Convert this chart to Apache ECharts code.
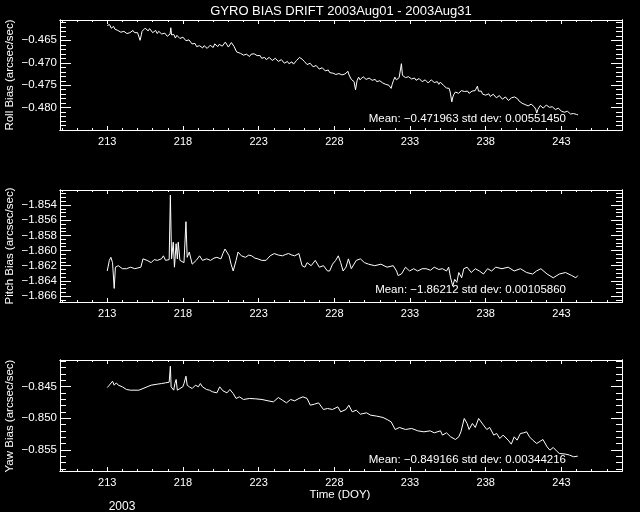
<!DOCTYPE html>
<html>
<head>
<meta charset="utf-8">
<script src="https://cdn.jsdelivr.net/npm/echarts@6/dist/echarts.min.js"></script>
<style>html,body{margin:0;padding:0;background:#000;}#c{width:640px;height:512px;}</style>
</head>
<body>
<div id="c"></div>
<script>
// ---------- data ----------
const titleText = 'GYRO BIAS DRIFT 2003Aug01 - 2003Aug31';
const xTickLabels = [213, 218, 223, 228, 233, 238, 243];
const yTitles = ['Roll Bias (arcsec/sec)', 'Pitch Bias (arcsec/sec)', 'Yaw Bias (arcsec/sec)'];
const statTexts = [
  'Mean: \u22120.471963 std dev: 0.00551450',
  'Mean: \u22121.86212 std dev: 0.00105860',
  'Mean: \u22120.849166 std dev: 0.00344216'
];
const rollTicks = [-0.480, -0.475, -0.470, -0.465];
const pitchTicks = [-1.866, -1.864, -1.862, -1.860, -1.858, -1.856, -1.854];
const yawTicks = [-0.855, -0.850, -0.845];

// roll: [day of year, bias]
const rollSeries = [
[213.0,-0.4617],[213.05,-0.4614],[213.1,-0.4619],[213.15,-0.4615],[213.2,-0.4616],[213.27,-0.4623],[213.35,-0.4621],[213.42,-0.4619],[213.5,-0.4625],[213.6,-0.4622],[213.7,-0.4628],[213.8,-0.4626],[213.9,-0.4632],[214.0,-0.4628],[214.1,-0.4630],[214.2,-0.4634],[214.3,-0.4635],[214.4,-0.4631],[214.5,-0.4633],[214.6,-0.4636],[214.7,-0.4628],[214.8,-0.4633],[214.9,-0.4636],[215.0,-0.4633],[215.1,-0.4637],[215.17,-0.4650],[215.25,-0.4638],[215.3,-0.4630],[215.36,-0.4627],[215.43,-0.4631],[215.5,-0.4623],[215.6,-0.4627],[215.7,-0.4629],[215.8,-0.4624],[215.9,-0.4626],[216.0,-0.4633],[216.1,-0.4631],[216.2,-0.4628],[216.3,-0.4635],[216.4,-0.4630],[216.5,-0.4632],[216.6,-0.4636],[216.7,-0.4639],[216.8,-0.4634],[216.9,-0.4637],[216.97,-0.4641],[217.05,-0.4643],[217.15,-0.4636],[217.2,-0.4622],[217.25,-0.4638],[217.3,-0.4640],[217.4,-0.4637],[217.5,-0.4645],[217.6,-0.4639],[217.7,-0.4641],[217.8,-0.4646],[217.9,-0.4648],[218.0,-0.4643],[218.1,-0.4645],[218.2,-0.4651],[218.3,-0.4655],[218.4,-0.4649],[218.5,-0.4652],[218.6,-0.4658],[218.7,-0.4660],[218.8,-0.4657],[218.9,-0.4664],[219.0,-0.4660],[219.1,-0.4662],[219.2,-0.4665],[219.3,-0.4667],[219.4,-0.4662],[219.5,-0.4664],[219.6,-0.4668],[219.7,-0.4666],[219.8,-0.4661],[219.9,-0.4662],[220.0,-0.4666],[220.1,-0.4658],[220.2,-0.4661],[220.3,-0.4664],[220.4,-0.4659],[220.5,-0.4655],[220.6,-0.4663],[220.7,-0.4660],[220.8,-0.4654],[220.9,-0.4657],[221.0,-0.4665],[221.1,-0.4662],[221.2,-0.4655],[221.3,-0.4656],[221.38,-0.4664],[221.45,-0.4661],[221.55,-0.4676],[221.68,-0.4674],[221.8,-0.4679],[221.9,-0.4677],[222.0,-0.4683],[222.1,-0.4679],[222.2,-0.4681],[222.3,-0.4685],[222.4,-0.4686],[222.5,-0.4681],[222.6,-0.4683],[222.7,-0.4680],[222.8,-0.4678],[222.9,-0.4684],[223.0,-0.4687],[223.1,-0.4684],[223.2,-0.4690],[223.3,-0.4686],[223.4,-0.4688],[223.5,-0.4693],[223.6,-0.4692],[223.7,-0.4688],[223.8,-0.4690],[223.9,-0.4695],[224.0,-0.4694],[224.1,-0.4690],[224.2,-0.4691],[224.3,-0.4697],[224.4,-0.4696],[224.5,-0.4693],[224.6,-0.4697],[224.7,-0.4701],[224.8,-0.4700],[224.9,-0.4697],[225.0,-0.4702],[225.1,-0.4699],[225.2,-0.4698],[225.3,-0.4703],[225.4,-0.4701],[225.5,-0.4695],[225.6,-0.4691],[225.7,-0.4688],[225.8,-0.4687],[225.87,-0.4692],[225.95,-0.4689],[226.02,-0.4697],[226.1,-0.4700],[226.2,-0.4704],[226.3,-0.4707],[226.4,-0.4701],[226.5,-0.4703],[226.6,-0.4709],[226.7,-0.4711],[226.8,-0.4706],[226.9,-0.4709],[227.0,-0.4714],[227.1,-0.4716],[227.2,-0.4711],[227.3,-0.4712],[227.4,-0.4718],[227.5,-0.4719],[227.6,-0.4716],[227.7,-0.4722],[227.8,-0.4719],[227.9,-0.4723],[228.0,-0.4727],[228.1,-0.4726],[228.2,-0.4722],[228.3,-0.4724],[228.4,-0.4728],[228.5,-0.4727],[228.6,-0.4723],[228.7,-0.4725],[228.8,-0.4721],[228.9,-0.4719],[228.97,-0.4727],[229.05,-0.4731],[229.12,-0.4737],[229.2,-0.4735],[229.3,-0.4742],[229.4,-0.4760],[229.5,-0.4740],[229.6,-0.4732],[229.7,-0.4738],[229.8,-0.4736],[229.9,-0.4731],[230.0,-0.4733],[230.1,-0.4737],[230.2,-0.4738],[230.3,-0.4734],[230.4,-0.4735],[230.5,-0.4739],[230.6,-0.4740],[230.7,-0.4737],[230.8,-0.4742],[230.9,-0.4739],[231.0,-0.4740],[231.1,-0.4744],[231.2,-0.4745],[231.3,-0.4743],[231.4,-0.4748],[231.5,-0.4746],[231.6,-0.4750],[231.68,-0.4753],[231.75,-0.4757],[231.82,-0.4748],[231.9,-0.4740],[232.0,-0.4732],[232.1,-0.4738],[232.2,-0.4736],[232.28,-0.4733],[232.35,-0.4730],[232.43,-0.4702],[232.5,-0.4728],[232.6,-0.4731],[232.7,-0.4733],[232.8,-0.4729],[232.9,-0.4731],[233.0,-0.4735],[233.1,-0.4736],[233.2,-0.4732],[233.3,-0.4734],[233.4,-0.4739],[233.5,-0.4738],[233.6,-0.4735],[233.7,-0.4737],[233.8,-0.4742],[233.9,-0.4741],[234.0,-0.4738],[234.1,-0.4740],[234.2,-0.4745],[234.3,-0.4743],[234.4,-0.4738],[234.5,-0.4740],[234.6,-0.4744],[234.7,-0.4746],[234.8,-0.4742],[234.9,-0.4748],[235.0,-0.4743],[235.1,-0.4745],[235.2,-0.4750],[235.3,-0.4752],[235.4,-0.4756],[235.5,-0.4760],[235.58,-0.4757],[235.65,-0.4765],[235.76,-0.4787],[235.83,-0.4776],[235.9,-0.4770],[236.0,-0.4765],[236.1,-0.4762],[236.2,-0.4768],[236.3,-0.4766],[236.4,-0.4762],[236.5,-0.4760],[236.6,-0.4764],[236.7,-0.4766],[236.8,-0.4763],[236.9,-0.4768],[237.0,-0.4766],[237.1,-0.4763],[237.2,-0.4767],[237.3,-0.4762],[237.38,-0.4759],[237.45,-0.4752],[237.52,-0.4763],[237.6,-0.4766],[237.7,-0.4763],[237.8,-0.4770],[237.9,-0.4767],[238.0,-0.4772],[238.1,-0.4768],[238.2,-0.4769],[238.3,-0.4775],[238.4,-0.4774],[238.5,-0.4770],[238.6,-0.4772],[238.7,-0.4778],[238.8,-0.4777],[238.9,-0.4773],[239.0,-0.4775],[239.1,-0.4781],[239.2,-0.4780],[239.3,-0.4776],[239.4,-0.4778],[239.5,-0.4784],[239.6,-0.4783],[239.7,-0.4778],[239.8,-0.4780],[239.9,-0.4776],[240.0,-0.4772],[240.1,-0.4780],[240.2,-0.4785],[240.3,-0.4788],[240.4,-0.4790],[240.5,-0.4787],[240.6,-0.4793],[240.7,-0.4790],[240.8,-0.4796],[240.9,-0.4799],[241.0,-0.4792],[241.1,-0.4795],[241.2,-0.4798],[241.3,-0.4803],[241.37,-0.4812],[241.44,-0.4804],[241.5,-0.4800],[241.6,-0.4795],[241.7,-0.4796],[241.8,-0.4801],[241.9,-0.4798],[242.0,-0.4794],[242.1,-0.4797],[242.2,-0.4799],[242.3,-0.4802],[242.4,-0.4798],[242.5,-0.4800],[242.6,-0.4804],[242.7,-0.4805],[242.8,-0.4801],[242.9,-0.4803],[243.0,-0.4808],[243.1,-0.4807],[243.2,-0.4810],[243.3,-0.4812],[243.4,-0.4808],[243.5,-0.4810],[243.6,-0.4814],[243.7,-0.4815],[243.8,-0.4813],[243.9,-0.4817],[244.0,-0.4815],[244.1,-0.4816]
];

const pitchDays = [213.0,213.14,213.24,213.35,213.46,213.54,213.73,214.0,214.27,214.55,214.82,215.22,215.36,215.63,215.9,216.1,216.31,216.58,216.71,216.85,216.98,217.09,217.17,217.25,217.36,217.44,217.55,217.63,217.69,217.8,218.07,218.2,218.28,218.42,218.61,218.88,219.1,219.29,219.56,219.83,220.05,220.24,220.51,220.64,220.78,221.05,221.18,221.32,221.4,221.51,221.64,221.86,222.13,222.35,222.54,222.75,222.95,223.2,223.49,223.76,224.03,224.3,224.57,224.8,224.98,225.2,225.38,225.66,225.87,226.06,226.2,226.47,226.74,227.01,227.28,227.55,227.69,227.88,228.09,228.26,228.42,228.58,228.77,228.93,229.12,229.45,229.72,229.99,230.26,230.67,231.08,231.48,231.89,232.11,232.21,232.43,232.7,232.97,233.24,233.51,233.8,234.06,234.35,234.6,234.9,235.14,235.41,235.55,235.68,235.82,235.95,236.09,236.22,236.41,236.55,236.77,237.04,237.31,237.58,237.85,238.12,238.39,238.66,239.07,239.48,239.88,240.29,240.7,241.1,241.35,241.64,242.05,242.46,242.86,243.27,243.68,243.95,244.08];
const pitchBias = [-1.8627,-1.8613,-1.8609,-1.8616,-1.8650,-1.8622,-1.8620,-1.8624,-1.8624,-1.8622,-1.8624,-1.8622,-1.8611,-1.8613,-1.8616,-1.8612,-1.8613,-1.8611,-1.8607,-1.8613,-1.8611,-1.8612,-1.8527,-1.8611,-1.8589,-1.8622,-1.8591,-1.8611,-1.8589,-1.8613,-1.8616,-1.8562,-1.8609,-1.8602,-1.8618,-1.8613,-1.8607,-1.8613,-1.8611,-1.8613,-1.8610,-1.8609,-1.8611,-1.8604,-1.8598,-1.8607,-1.8618,-1.8627,-1.8627,-1.8613,-1.8602,-1.8607,-1.8609,-1.8606,-1.8607,-1.8610,-1.8611,-1.8613,-1.8613,-1.8607,-1.8604,-1.8606,-1.8607,-1.8605,-1.8604,-1.8606,-1.8607,-1.8604,-1.8620,-1.8622,-1.8616,-1.8620,-1.8613,-1.8622,-1.8620,-1.8627,-1.8627,-1.8618,-1.8613,-1.8607,-1.8616,-1.8627,-1.8622,-1.8611,-1.8624,-1.8613,-1.8611,-1.8616,-1.8618,-1.8620,-1.8618,-1.8622,-1.8620,-1.8627,-1.8633,-1.8631,-1.8622,-1.8627,-1.8624,-1.8627,-1.8624,-1.8624,-1.8626,-1.8622,-1.8625,-1.8624,-1.8627,-1.8622,-1.8636,-1.8647,-1.8638,-1.8642,-1.8629,-1.8636,-1.8624,-1.8622,-1.8629,-1.8624,-1.8627,-1.8631,-1.8624,-1.8627,-1.8622,-1.8624,-1.8622,-1.8627,-1.8624,-1.8629,-1.8631,-1.8627,-1.8624,-1.8631,-1.8636,-1.8631,-1.8629,-1.8633,-1.8636,-1.8633];

const yawDays = [213.0,213.14,213.24,213.35,213.46,213.6,213.73,214.0,214.27,214.54,215.09,215.36,215.63,215.9,216.31,216.58,216.85,216.98,217.09,217.17,217.22,217.39,217.47,217.55,217.63,217.8,217.99,218.07,218.2,218.28,218.42,218.61,218.83,219.02,219.15,219.29,219.56,219.75,219.96,220.24,220.43,220.64,220.91,221.1,221.32,221.51,221.73,222.0,222.4,222.81,223.22,223.62,223.98,224.3,224.57,224.84,225.11,225.38,225.66,225.93,226.2,226.41,226.69,226.96,227.28,227.55,227.88,228.23,228.42,228.77,228.96,229.18,229.45,229.72,230.13,230.4,230.8,231.21,231.48,231.75,232.02,232.3,232.7,233.11,233.51,233.92,234.33,234.6,235.01,235.14,235.41,235.68,236.0,236.22,236.36,236.58,236.77,236.9,237.12,237.31,237.53,237.63,237.85,238.07,238.26,238.53,238.72,238.93,239.15,239.48,239.69,239.88,240.07,240.29,240.51,240.7,240.89,241.1,241.37,241.64,241.78,242.05,242.24,242.46,242.67,242.86,243.27,243.54,243.81,244.08];
const yawBias = [-0.84516,-0.84479,-0.84453,-0.84416,-0.84479,-0.84442,-0.84479,-0.84505,-0.84547,-0.84558,-0.84558,-0.84532,-0.84505,-0.84479,-0.84463,-0.84453,-0.84442,-0.84463,-0.84432,-0.84179,-0.84505,-0.84558,-0.84453,-0.84389,-0.84558,-0.84532,-0.84505,-0.84453,-0.84337,-0.84479,-0.84505,-0.84532,-0.84479,-0.84505,-0.84453,-0.84505,-0.84547,-0.84558,-0.84584,-0.84600,-0.84505,-0.84568,-0.84600,-0.84547,-0.84611,-0.84689,-0.84663,-0.84705,-0.84689,-0.84695,-0.84705,-0.84726,-0.84742,-0.84674,-0.84716,-0.84758,-0.84705,-0.84726,-0.84689,-0.84663,-0.84689,-0.84795,-0.84779,-0.84758,-0.84863,-0.84847,-0.84863,-0.84821,-0.84900,-0.84863,-0.84795,-0.84900,-0.84874,-0.84937,-0.84916,-0.84953,-0.84968,-0.84989,-0.85021,-0.85058,-0.85179,-0.85147,-0.85179,-0.85163,-0.85200,-0.85216,-0.85200,-0.85232,-0.85200,-0.85268,-0.85232,-0.85295,-0.85337,-0.85295,-0.85216,-0.85005,-0.85084,-0.85179,-0.85084,-0.85147,-0.85005,-0.84989,-0.85110,-0.85179,-0.85147,-0.85268,-0.85242,-0.85321,-0.85268,-0.85347,-0.85411,-0.85295,-0.85347,-0.85242,-0.85232,-0.85216,-0.85295,-0.85347,-0.85400,-0.85358,-0.85337,-0.85453,-0.85505,-0.85463,-0.85516,-0.85558,-0.85568,-0.85584,-0.85611,-0.85600];

// ---------- layout / styles ----------
const FONT = '"Liberation Sans", Arial, sans-serif';
const WHITE = '#ffffff';
const X_MIN = 209.88, X_MAX = 247.0;
const grids = [
  { left: 60, right: 18, top: 20, height: 110 },
  { left: 60, right: 18, top: 190, height: 112 },
  { left: 60, right: 18, top: 360, height: 111 }
];
const yRanges = [
  { min: -0.48496, max: -0.46048 },
  { min: -1.86679, max: -1.85202 },
  { min: -0.85835, max: -0.84081 }
];
const yMajor = [rollTicks, pitchTicks, yawTicks];
function range(a, b, step, div) { const r = []; for (let k = a; k <= b; k += step) r.push(k / div); return r; }
const yMinor = [range(-484, -461, 1, 1000), range(-3733, -3705, 1, 2000), range(-858, -841, 1, 1000)];
const xMinor = range(210, 246, 1, 1);

const fmtY = v => (v < 0 ? '\u2212' : '') + Math.abs(v).toFixed(3);

const xAxes = [], yAxes = [];
grids.forEach((g, p) => {
  const mk = (pos, ticks, len, labels) => ({
    type: 'value', gridIndex: p, position: pos, min: X_MIN, max: X_MAX,
    axisLine: { show: true, onZero: false, lineStyle: { color: WHITE, width: 1 } },
    axisTick: { show: true, inside: true, length: len, customValues: ticks, lineStyle: { color: WHITE, width: 1 } },
    axisLabel: labels ? { show: true, customValues: xTickLabels, color: WHITE, fontSize: 11, fontFamily: FONT, margin: 6 } : { show: false },
    splitLine: { show: false }
  });
  xAxes.push(mk('bottom', xTickLabels, 4, true));
  xAxes.push(mk('bottom', xMinor, 2, false));
  xAxes.push(mk('top', xTickLabels, 4, false));
  xAxes.push(mk('top', xMinor, 2, false));
  const mky = (pos, ticks, len, labels) => ({
    type: 'value', gridIndex: p, position: pos, min: yRanges[p].min, max: yRanges[p].max,
    axisLine: { show: true, onZero: false, lineStyle: { color: WHITE, width: 1 } },
    axisTick: { show: true, inside: true, length: len, customValues: ticks, lineStyle: { color: WHITE, width: 1 } },
    axisLabel: labels ? { show: true, customValues: yMajor[p], formatter: fmtY, color: WHITE, fontSize: 11.5, fontFamily: FONT, margin: 3 } : { show: false },
    splitLine: { show: false }
  });
  yAxes.push(mky('left', yMajor[p], 11, true));
  yAxes.push(mky('left', yMinor[p], 6, false));
  yAxes.push(mky('right', yMajor[p], 11, false));
  yAxes.push(mky('right', yMinor[p], 6, false));
});

const zip = (a, b) => a.map((d, i) => [d, b[i]]);
const seriesData = [rollSeries, zip(pitchDays, pitchBias), zip(yawDays, yawBias)];
const series = seriesData.map((d, p) => ({
  type: 'line', xAxisIndex: 4 * p, yAxisIndex: 4 * p, data: d,
  showSymbol: false, symbol: 'none', lineStyle: { color: WHITE, width: 1 }, silent: true
}));

const textEl = (text, x, y, size, align, rot) => ({
  type: 'text', x: x, y: y, rotation: rot || 0, silent: true,
  style: { text: text, fill: WHITE, font: size + 'px ' + FONT, align: align, verticalAlign: 'middle' }
});
const panelMid = [75, 246, 416];
const statY = [119, 289.5, 460];
const graphics = [textEl(titleText, 341, 11, 13, 'center')];
yTitles.forEach((t, p) => graphics.push(textEl(t, 9.5, panelMid[p], 11.5, 'center', Math.PI / 2)));
statTexts.forEach((t, p) => graphics.push(textEl(t, 566, statY[p], 11.5, 'right')));
graphics.push(textEl('Time (DOY)', 340, 495, 11.5, 'center'));
graphics.push(textEl('2003', 122, 507, 12, 'center'));

const chart = echarts.init(document.getElementById('c'), null, { renderer: 'canvas' });
chart.setOption({
  backgroundColor: '#000000',
  animation: false,
  grid: grids,
  xAxis: xAxes,
  yAxis: yAxes,
  series: series,
  graphic: graphics
});
</script>
</body>
</html>
